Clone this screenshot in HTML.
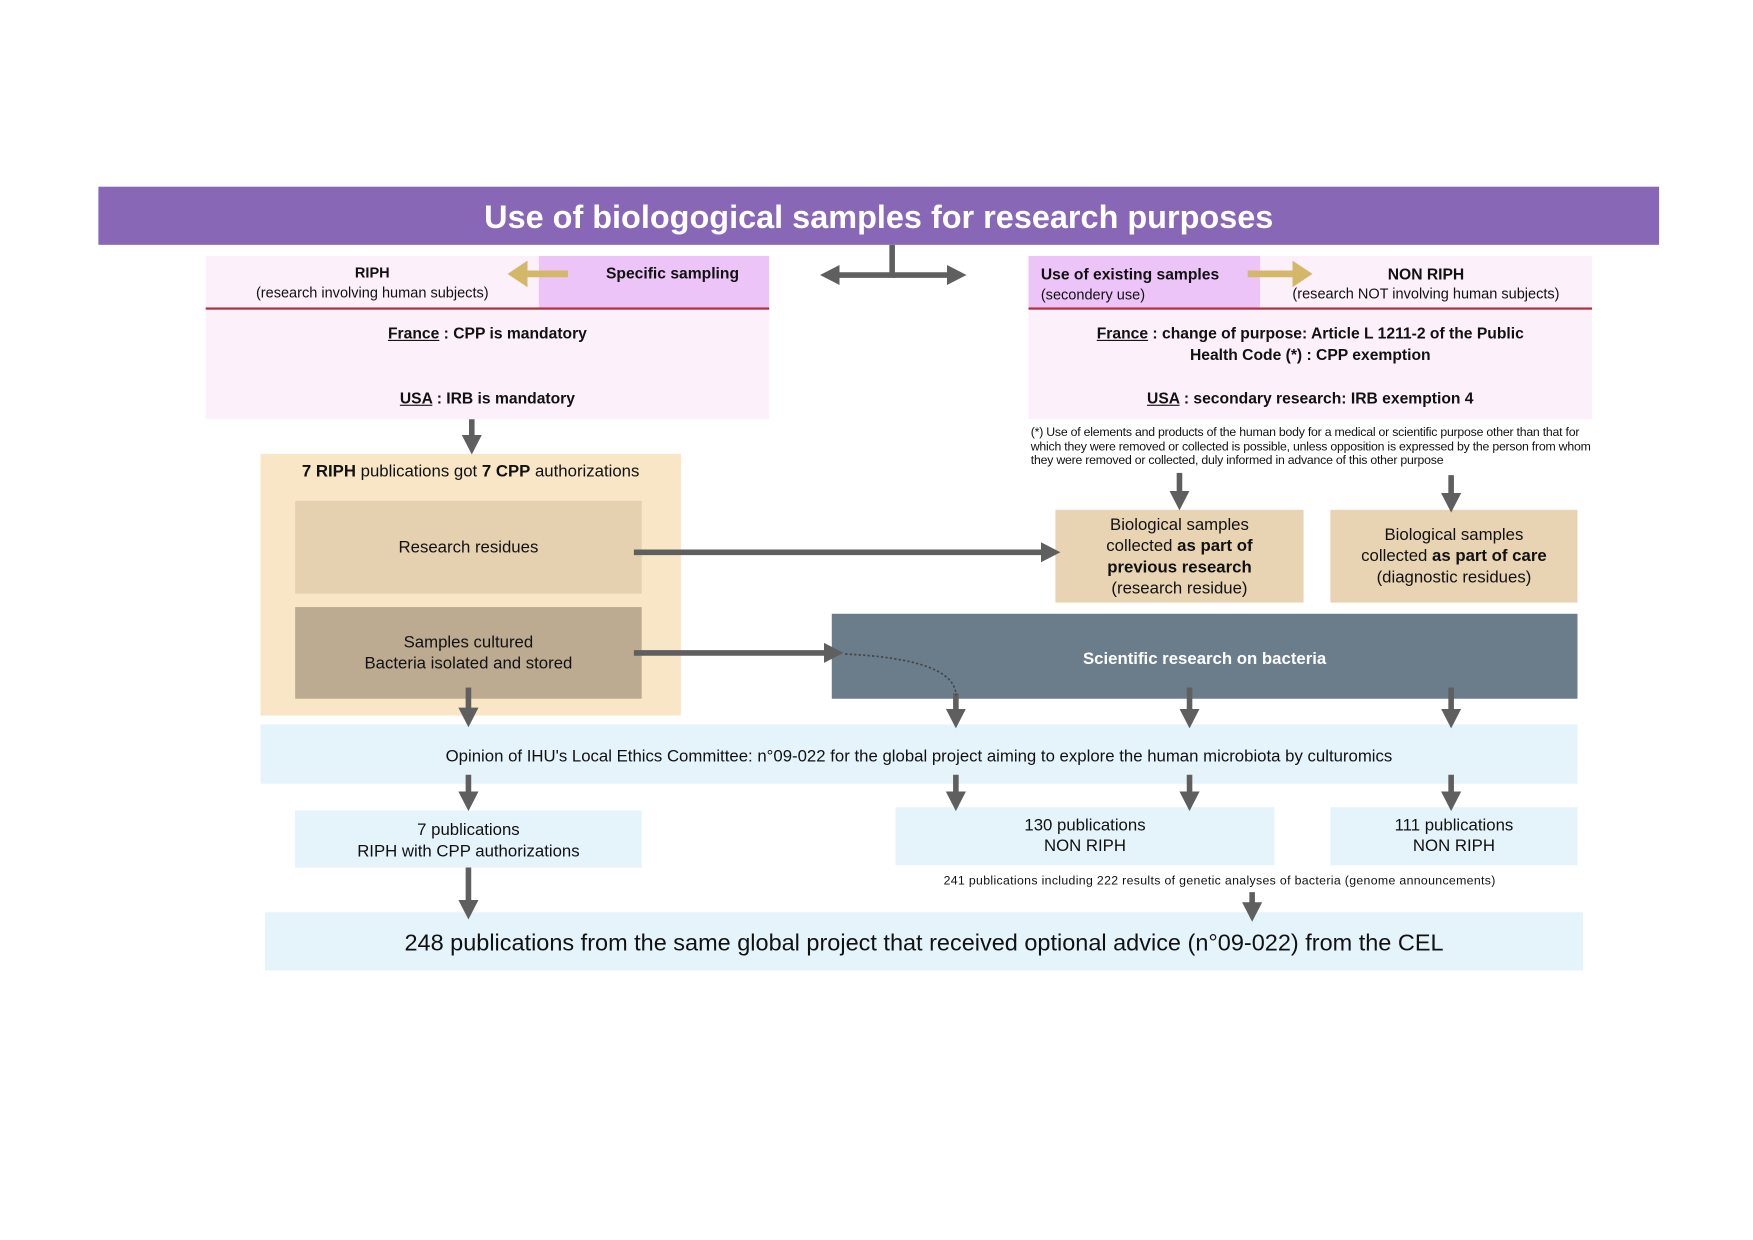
<!DOCTYPE html>
<html><head><meta charset="utf-8"><style>
body{margin:0;background:#fff;}
#w{position:relative;width:1568px;height:1109px;transform:scale(1.11798);transform-origin:0 0;font-family:"Liberation Sans",sans-serif;color:#111;}
.b{position:absolute;box-sizing:border-box;}
.c{display:flex;flex-direction:column;align-items:center;justify-content:center;text-align:center;}
svg{position:absolute;left:0;top:0;}
u{text-decoration:underline;}
</style></head><body><div id="w">
<div class="b c" style="left:88px;top:167px;width:1396px;height:52px;background:#8867b6;color:#fff;font-weight:bold;font-size:29px;padding-top:4px;">Use of biologogical samples for research purposes</div>

<div class="b" style="left:184px;top:229px;width:504px;height:146px;background:#fcf0fb;"></div>
<div class="b" style="left:482px;top:229px;width:206px;height:47px;background:#ecc4f8;"></div>
<div class="b" style="left:184px;top:275px;width:504px;height:2px;background:#b03040;"></div>
<div class="b c" style="left:184px;top:235px;width:298px;font-size:13px;line-height:18px;"><b>RIPH</b>(research involving human subjects)</div>
<div class="b" style="left:542px;top:236px;font-size:14px;font-weight:bold;">Specific sampling</div>
<div class="b c" style="left:184px;top:290px;width:504px;font-size:14px;font-weight:bold;"><span><u>France</u> : CPP is mandatory</span></div>
<div class="b c" style="left:184px;top:348px;width:504px;font-size:14px;font-weight:bold;"><span><u>USA</u> : IRB is mandatory</span></div>

<div class="b" style="left:920px;top:229px;width:504px;height:146px;background:#fcf0fb;"></div>
<div class="b" style="left:920px;top:229px;width:207px;height:47px;background:#ecc4f8;"></div>
<div class="b" style="left:920px;top:275px;width:504px;height:2px;background:#b03040;"></div>
<div class="b" style="left:931px;top:236px;font-size:14px;line-height:18px;"><b>Use of existing samples</b><br><span style="font-size:13px">(secondery use)</span></div>
<div class="b c" style="left:1127px;top:236px;width:297px;font-size:13px;line-height:18px;"><b style="font-size:14px">NON RIPH</b>(research NOT involving human subjects)</div>
<div class="b c" style="left:920px;top:289px;width:504px;font-size:14px;font-weight:bold;line-height:19px;"><span><u>France</u> : change of purpose: Article L 1211-2 of the Public<br>Health Code (*) : CPP exemption</span></div>
<div class="b c" style="left:920px;top:348px;width:504px;font-size:14px;font-weight:bold;"><span><u>USA</u> : secondary research: IRB exemption 4</span></div>
<div class="b" style="left:922px;top:381px;width:505px;font-size:11px;line-height:12.5px;letter-spacing:-0.2px;">(*) Use of elements and products of the human body for a medical or scientific purpose other than that for which they were removed or collected is possible, unless opposition is expressed by the person from whom they were removed or collected, duly informed in advance of this other purpose</div>

<div class="b" style="left:233px;top:406px;width:376px;height:234px;background:#f8e6c6;"></div>
<div class="b c" style="left:233px;top:413px;width:376px;font-size:15px;"><span><b>7 RIPH</b> publications got <b>7 CPP</b> authorizations</span></div>
<div class="b c" style="left:264px;top:448px;width:310px;height:83px;background:#e5d0b0;font-size:15px;">Research residues</div>
<div class="b c" style="left:264px;top:543px;width:310px;height:82px;background:#bcab91;font-size:15px;line-height:19px;">Samples cultured<br>Bacteria isolated and stored</div>

<div class="b c" style="left:944px;top:456px;width:222px;height:83px;background:#e8d3b3;font-size:15px;line-height:19px;">Biological samples<br><span>collected <b>as part of</b></span><b>previous research</b>(research residue)</div>
<div class="b c" style="left:1190px;top:456px;width:221px;height:83px;background:#e8d3b3;font-size:15px;line-height:19px;">Biological samples<br><span>collected <b>as part of care</b></span>(diagnostic residues)</div>
<div class="b c" style="left:744px;top:549px;width:667px;height:76px;background:#6b7d8b;color:#fff;font-weight:bold;font-size:15px;padding-top:4px;">Scientific research on bacteria</div>

<div class="b c" style="left:233px;top:648px;width:1178px;height:53px;background:#e5f3fb;font-size:15px;padding-top:4px;">Opinion of IHU's Local Ethics Committee: n°09-022 for the global project aiming to explore the human microbiota by culturomics</div>
<div class="b c" style="left:264px;top:725px;width:310px;height:51px;background:#e5f3fb;font-size:15px;line-height:19px;padding-top:2px;">7 publications<br>RIPH with CPP authorizations</div>
<div class="b c" style="left:801px;top:722px;width:339px;height:52px;background:#e5f3fb;font-size:15px;line-height:18px;">130 publications<br>NON RIPH</div>
<div class="b c" style="left:1190px;top:722px;width:221px;height:52px;background:#e5f3fb;font-size:15px;line-height:18px;">111 publications<br>NON RIPH</div>
<div class="b" style="left:844px;top:782px;font-size:11px;letter-spacing:0.3px;">241 publications including 222 results of genetic analyses of bacteria (genome announcements)</div>
<div class="b c" style="left:237px;top:816px;width:1179px;height:52px;background:#e5f3fb;font-size:21px;padding-top:4px;">248 publications from the same global project that received optional advice (n°09-022) from the CEL</div>

<svg width="1568" height="1109">
<defs>
<marker id="a" markerWidth="4" markerHeight="4" refX="2.2" refY="2" orient="auto" markerUnits="strokeWidth"><path d="M0,0.2 L3.5,2 L0,3.8 Z" fill="#5f5f5f"/></marker>
<marker id="y" markerWidth="4" markerHeight="4" refX="2" refY="2" orient="auto" markerUnits="strokeWidth"><path d="M0,0 L3,2 L0,4 Z" fill="#d4b86a"/></marker>
</defs>
<g stroke="#5f5f5f" stroke-width="5" fill="none" marker-end="url(#a)">
<path d="M798,219 V246 H740"/>
<path d="M798,246 H858"/>
<path d="M422,375 V400"/>
<path d="M567,494 H942"/>
<path d="M567,584 H748"/>
<path d="M1055,423 V450"/>
<path d="M1298,425 V452"/>
<path d="M419,615 V644"/>
<path d="M855,620 V645"/>
<path d="M1064,615 V645"/>
<path d="M1298,615 V645"/>
<path d="M419,693 V719"/>
<path d="M855,693 V719"/>
<path d="M1064,693 V719"/>
<path d="M1298,693 V719"/>
<path d="M419,776 V816"/>
<path d="M1120,798 V818"/>
</g>
<path d="M756,585 C820,588 855,600 855,622" stroke="#444" stroke-width="1.5" stroke-dasharray="2,2" fill="none"/>
<g stroke="#d4b86a" stroke-width="6" fill="none" marker-end="url(#y)">
<path d="M508,245 H460"/>
<path d="M1116,245 H1168"/>
</g>
</svg>
</div></body></html>
